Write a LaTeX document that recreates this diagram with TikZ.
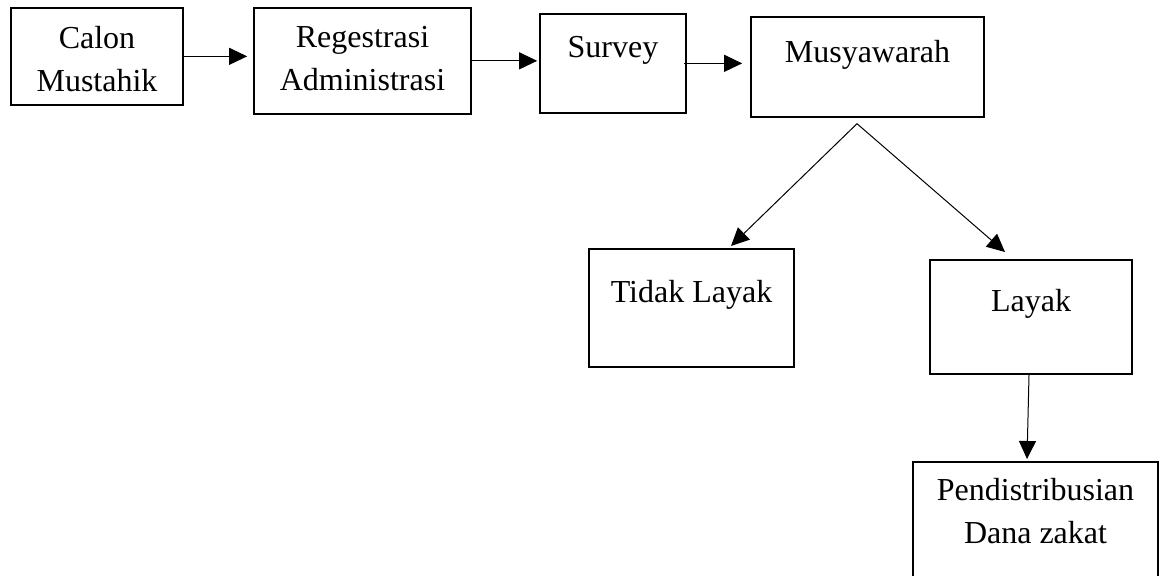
\documentclass[tikz,border=0pt]{standalone}
\usepackage{fontspec}
\setmainfont{Liberation Serif}
\usetikzlibrary{arrows.meta,calc}

\begin{document}
\begin{tikzpicture}[x=0.5pt,y=-0.5pt,
		box/.style={draw,line width=0.85pt,inner sep=0pt,anchor=north,font=\fontsize{16}{21.5}\selectfont},
		arr/.style={-{Triangle[length=9pt,width=8.5pt]},line width=0.5pt}]
		\useasboundingbox (0,0) rectangle (1165,576);
		\node[box,minimum width=86pt,text height=20.5pt,text depth=28pt] (calon) at (97,7) {\begin{tabular}[t]{@{}c@{}}Calon\\Mustahik\end{tabular}};
		\node[box,minimum width=108.5pt,text height=20pt,text depth=33pt] (regis) at (362.5,7) {\begin{tabular}[t]{@{}c@{}}Regestrasi\\Administrasi\end{tabular}};
		\node[box,minimum width=73pt,text height=22pt,text depth=27.5pt] (survey) at (613,13) {Survey};
		\node[box,minimum width=116.5pt,text height=23pt,text depth=27pt] (musy) at (867.5,16) {Musyawarah};
		\node[box,minimum width=102.5pt,text height=27pt,text depth=32pt] (tidak) at (691.5,248) {Tidak Layak};
		\node[box,minimum width=101pt,text height=26pt,text depth=31pt] (layak) at (1031,259) {Layak};
		\node[box,minimum width=122.5pt,text height=19.5pt,text depth=45pt] (dana) at (1035.5,461) {\begin{tabular}[t]{@{}c@{}}Pendistribusian\\Dana zakat\end{tabular}};
		\coordinate (split) at ($(musy.south)+(-10.5,6)$);
		%
		\draw[arr,shorten >=3pt] (calon.east) -- (calon.east -| regis.west);
		\draw[arr,shorten >=1pt] (regis.east) -- (regis.east -| survey.west);
		\draw[arr,shorten >=4pt] ($(survey.east)+(-3,0)$) -- (survey.east -| musy.west);
		\draw[arr] (split) -- ($(tidak.north)+(39.5,-2)$);
		\draw[arr] (split) -- ($(layak.north)+(-26,-7)$);
		\draw[arr] ($(layak.south)+(-2,0)$) -- ($(dana.north)+(-8.5,-2)$);
	\end{tikzpicture}
\end{document}
